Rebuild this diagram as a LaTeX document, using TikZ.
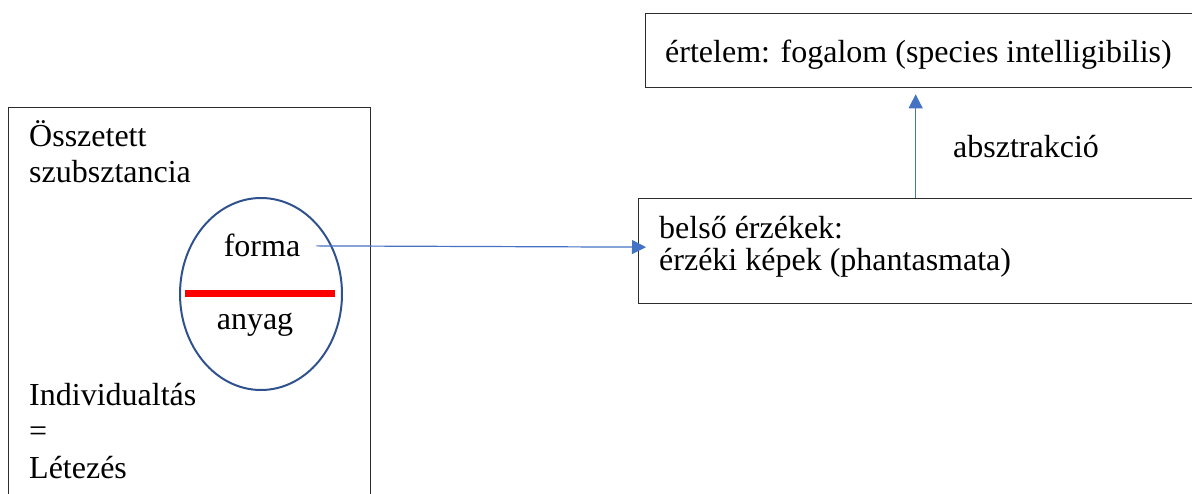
\documentclass[tikz,border=0pt]{standalone}
\usepackage{fontspec}
\setmainfont{Liberation Serif}
\usetikzlibrary{positioning,calc,arrows.meta,shapes.geometric}
\definecolor{arrowblue}{RGB}{68,114,196}
\definecolor{ovalblue}{RGB}{47,82,143}
\definecolor{boxgray}{RGB}{45,45,45}

\begin{document}
\begin{tikzpicture}[x=1pt,y=-1pt,
                every node/.style={font=\fontsize{32}{36.5}\selectfont},
                box node/.style={draw=boxgray,line width=1.3pt,rectangle,inner sep=0pt,anchor=north west},
                txt node/.style={inner sep=0pt,align=left,anchor=base west},
                link/.style={draw=arrowblue,line width=1.2pt,-{Triangle[length=14pt,width=14pt]}}]
\useasboundingbox (0,0) rectangle (1192,494);
\clip (0,0) rectangle (1192,494);
%Boxes
    \node[box node, minimum width=362, minimum height=420] (subst) at (8,107) {};
    \node[box node, minimum width=570, minimum height=105] (inner) at (638,198) {};
    \node[box node, minimum width=570, minimum height=74] (concept) at (645,13) {};
    \node[draw=ovalblue, line width=2pt, ellipse, inner sep=0pt,
          minimum width=162, minimum height=192] (oval) at (261,294) {};
    \draw[red, line width=7pt] ([xshift=6pt]oval.west) -- ([xshift=-8pt]oval.east);

%Texts (base = last line)
    \node[txt node] (top) at (29,183) {Összetett\\szubsztancia};
    \node[txt node] (bottom) at (29,478) {Individualtás\\=\\Létezés};
    \node[txt node, anchor=base] (forma) at (262,257) {forma};
    \node[txt node, anchor=base] (anyag) at (255,330) {anyag};
    \node[txt node, font=\fontsize{32}{32}\selectfont] (senses) at (659,271) {belső érzékek:\\érzéki képek (phantasmata)};
    \node[txt node] (intellect) at (665,63) {értelem: fogalom (species intelligibilis)};
    \node[txt node] (abstr) at (953,158) {absztrakció};

%Arrows
    \coordinate (tip) at ($(inner.north |- concept.south)+(-8,6)$);
    \draw[link] ([xshift=16pt]forma.east) -- ([xshift=8pt,yshift=4pt]inner.west);
    \draw[link] ([xshift=-8pt]inner.north) -- (tip);
\end{tikzpicture}
\end{document}
